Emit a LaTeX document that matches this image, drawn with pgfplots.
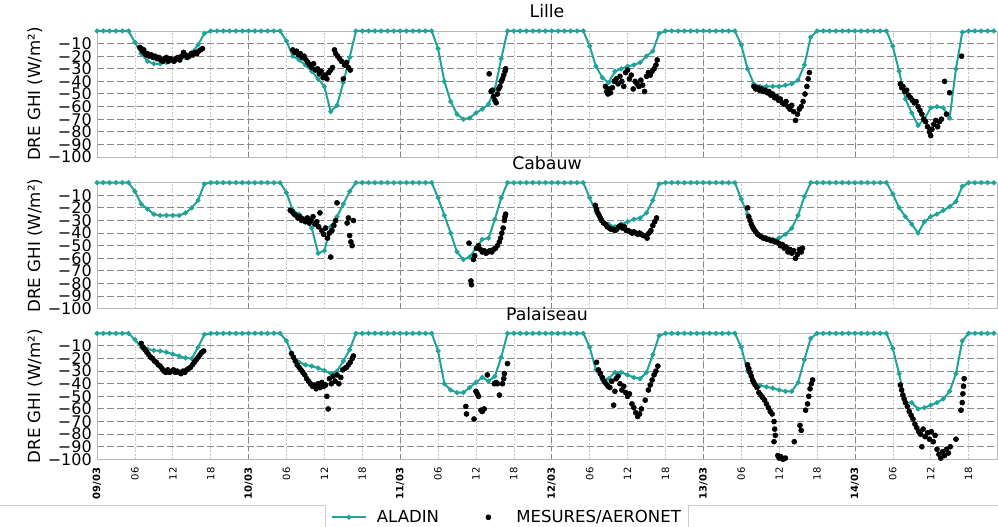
\documentclass[border=0pt]{standalone}
\usepackage{pgfplots}
\pgfplotsset{compat=1.18}
\usepackage{pgfplotstable}
\usepackage{fontspec}
\setmainfont{DejaVu Sans}
\definecolor{aladin}{RGB}{32,163,153}
\definecolor{gridc}{RGB}{135,135,135}

\pgfplotstableread{
h L C P
0 0 0 0
1 0 0 0
2 0 0 0
3 0 0 0
4 0 0 0
5 0 0 0
6 -9 -7 -5
7 -18 -17 -11
8 -24 -21 -12.5
9 -26 -25 -13.5
10 -26 -26 -14
11 -25 -26 -15
12 -24 -26 -16.5
13 -23 -26 -18
14 -21 -24 -19.5
15 -17 -20 -20
16 -11 -14 -11
17 -2 -1 -1
18 0 0 0
19 0 0 0
20 0 0 0
21 0 0 0
22 0 0 0
23 0 0 0
24 0 0 0
25 0 0 0
26 0 0 0
27 0 0 0
28 0 0 0
29 0 0 0
30 -8 -8 -6
31 -20 -22 -18
32 -23 -25 -23
33 -27 -29 -25
34 -32 -36 -26
35 -38 -56 -27.5
36 -44 -54 -29.5
37 -64 -35 -32
38 -59 -27 -30
39 -41 -17 -22
40 -21 -7 -13
41 0 0 0
42 0 0 0
43 0 0 0
44 0 0 0
45 0 0 0
46 0 0 0
47 0 0 0
48 0 0 0
49 0 0 0
50 0 0 0
51 0 0 0
52 0 0 0
53 0 0 0
54 -14 -12 -14
55 -40 -26 -40
56 -56 -40 -45
57 -66 -55 -47
58 -70 -61 -47
59 -69 -59 -43
60 -65 -52 -39
61 -62 -45 -35
62 -58 -44 -38
63 -46 -29 -34
64 -22 -12 -19
65 0 0 0
66 0 0 0
67 0 0 0
68 0 0 0
69 0 0 0
70 0 0 0
71 0 0 0
72 0 0 0
73 0 0 0
74 0 0 0
75 0 0 0
76 0 0 0
77 0 0 0
78 -12 -12 -11
79 -28 -23 -29
80 -37 -30 -37
81 -41 -33 -36
82 -32 -35 -31
83 -30 -33 -31
84 -28 -31 -33
85 -27 -29 -35
86 -25 -28 -36
87 -20 -24 -31
88 -16 -14 -17
89 -2 -1 -2
90 0 0 0
91 0 0 0
92 0 0 0
93 0 0 0
94 0 0 0
95 0 0 0
96 0 0 0
97 0 0 0
98 0 0 0
99 0 0 0
100 0 0 0
101 0 0 0
102 -11 -13 -11
103 -30 -25 -30
104 -42 -36 -40
105 -44 -42 -41.5
106 -44 -44 -42.5
107 -44 -45 -43.5
108 -44 -44 -45
109 -43 -41 -46
110 -42 -36 -46
111 -39 -26 -39
112 -27 -11 -21
113 -5 0 -4
114 0 0 0
115 0 0 0
116 0 0 0
117 0 0 0
118 0 0 0
119 0 0 0
120 0 0 0
121 0 0 0
122 0 0 0
123 0 0 0
124 0 0 0
125 0 0 0
126 -12 -9 -12
127 -32 -20 -32
128 -54 -27 -55
129 -65 -33 -55
130 -75 -40 -60
131 -70 -31 -59
132 -61 -27 -57
133 -60 -25 -55
134 -61 -22 -52
135 -69 -19 -46
136 -30 -15 -32
137 -1 -3 -6
138 0 0 0
139 0 0 0
140 0 0 0
141 0 0 0
142 0 0 0
}\aladintable

\pgfplotsset{
  panel/.style={
    scale only axis, width=675pt, height=94.5pt,
    xmin=0, xmax=142.5, ymin=-100, ymax=0,
    clip=false,
    axis line style={gray!55, line width=0.6pt},
    major tick length=0pt,
    ytick={-100,-90,...,-10},
    yticklabels={−100,−90,−80,−70,−60,−50,−40,−30,−20,−10},
    yticklabel style={font=\fontsize{12}{12}\selectfont, inner sep=0pt, anchor=east},
    yticklabel shift=3.75pt,
    xtick={0,6,...,138},
    xmajorgrids, ymajorgrids,
    x grid style={gray!45, dash pattern=on 1.5pt off 1.2pt, line width=0.45pt},
    y grid style={gridc, dash pattern=on 5.25pt off 2.25pt, line width=0.75pt},
    extra x ticks={24,48,72,96,120},
    extra x tick labels={},
    extra x tick style={x grid style={gridc, dash pattern=on 4pt off 2.25pt, line width=0.6pt}},
    title style={font=\fontsize{13}{13}\selectfont, at={(axis description cs:0.5,1)}, anchor=base, yshift=3.75pt},
    ylabel={DRE GHI (W/m²)},
    ylabel style={font=\fontsize{12.5}{12.5}\selectfont, at={(axis description cs:-0.0689,0.5)}, anchor=center},
  },
  aladinstyle/.style={color=aladin, line width=1.5pt, mark=*, mark size=1.0pt,
    mark options={fill=aladin!85!black, draw=none},
    legend image code/.code={\path[draw=none, fill=none] (0pt,-2pt) rectangle (32pt,2pt); \draw[mark repeat=2, mark phase=2, ##1] plot coordinates {(0pt,0pt) (13pt,0pt) (26pt,0pt)};}},
  measstyle/.style={only marks, mark=*, mark size=1.9pt, color=black,
    legend image code/.code={\path[draw=none, fill=none] (0pt,-2pt) rectangle (32pt,2pt); \draw[mark repeat=2, mark phase=2, ##1] plot coordinates {(0pt,0pt) (13pt,0pt) (26pt,0pt)};}},
}

\begin{document}
\begin{tikzpicture}
\useasboundingbox (0pt,0pt) rectangle (748.5pt,-395.25pt);

% ---------------- Lille ----------------
\begin{axis}[panel, at={(72.75pt,-23.25pt)}, anchor=north west, title={Lille}, xticklabels={}]
\addplot[aladinstyle] table[x=h, y=L] {\aladintable};
\addplot[measstyle] coordinates {
(6.8,-13) (7.0,-14) (7.2,-16) (7.4,-15) (7.6,-18) (7.8,-19) (8.0,-18) (8.3,-20) (8.6,-19) (8.9,-21)
(9.2,-20) (9.5,-22) (9.8,-21) (10.1,-23) (10.4,-24) (10.7,-22) (11.0,-21) (11.3,-24) (11.6,-22) (11.9,-23)
(12.2,-24) (12.5,-22) (12.8,-21) (13.1,-23) (13.4,-20) (13.7,-17) (14.0,-19) (14.3,-21) (14.6,-20) (14.9,-18)
(15.2,-19) (15.5,-17) (15.8,-18) (16.1,-16) (16.4,-15) (16.7,-14)
(31.0,-15) (31.3,-17) (31.6,-16) (31.9,-19) (32.2,-18) (32.5,-21) (32.8,-20) (33.1,-23) (33.4,-25) (33.7,-27)
(34.0,-29) (34.3,-26) (34.6,-31) (34.9,-30) (35.2,-34) (35.5,-32) (35.8,-37) (36.1,-35) (36.4,-38) (36.7,-33)
(37.0,-31) (37.3,-29) (37.6,-15) (37.8,-18) (38.1,-20) (38.4,-22) (38.7,-24) (39.0,-38) (39.2,-27) (39.5,-25)
(39.8,-29) (40.1,-31)
(62.1,-34) (62.4,-48) (62.6,-47) (62.8,-52) (63.0,-55) (63.2,-57) (63.4,-50) (63.6,-46) (63.8,-44) (64.0,-40)
(64.2,-38) (64.4,-35) (64.6,-32) (64.7,-30)
(80.5,-44) (80.7,-48) (80.9,-50) (81.1,-46) (81.3,-49) (81.6,-45) (81.9,-40) (82.2,-38) (82.5,-42) (82.8,-36)
(83.1,-40) (83.4,-44) (83.7,-33) (84.0,-31) (84.3,-38) (84.6,-35) (84.9,-46) (85.2,-40) (85.5,-42) (85.8,-44)
(86.1,-39) (86.4,-43) (86.7,-48) (87.0,-36) (87.3,-33) (87.6,-35) (87.9,-32) (88.2,-30) (88.5,-27) (88.7,-23)
(104.0,-44) (104.3,-46) (104.6,-45) (104.9,-47) (105.2,-46) (105.5,-48) (105.8,-47) (106.1,-49) (106.4,-48) (106.7,-51)
(107.0,-50) (107.3,-53) (107.6,-52) (107.9,-55) (108.2,-54) (108.5,-57) (108.8,-58) (109.1,-56) (109.4,-60) (109.7,-62)
(110.0,-59) (110.3,-64) (110.6,-71) (110.9,-66) (111.2,-62) (111.5,-60) (111.8,-56) (112.1,-50) (112.4,-44) (112.6,-38)
(112.8,-33)
(127.2,-42) (127.4,-45) (127.6,-44) (127.9,-48) (128.2,-47) (128.5,-51) (128.8,-53) (129.1,-55) (129.4,-57) (129.7,-56)
(130.0,-60) (130.3,-63) (130.6,-66) (130.9,-70) (131.2,-72) (131.5,-76) (131.8,-80) (132.0,-83) (132.2,-78) (132.5,-74)
(132.8,-71) (133.1,-76) (133.4,-72) (133.7,-70) (134.2,-40) (134.5,-66) (135.0,-49) (136.9,-20)
};
\end{axis}

% ---------------- Cabauw ----------------
\begin{axis}[panel, at={(72.75pt,-137pt)}, anchor=north west, title={Cabauw}, xticklabels={}]
\addplot[aladinstyle] table[x=h, y=C] {\aladintable};
\addplot[measstyle] coordinates {
(30.6,-22) (30.9,-23) (31.2,-25) (31.5,-26) (31.8,-28) (32.1,-27) (32.4,-30) (32.7,-29) (33.0,-31) (33.3,-28)
(33.6,-32) (33.9,-30) (34.2,-27) (34.5,-33) (34.8,-31) (35.1,-35) (35.3,-24) (35.6,-38) (35.9,-41) (36.2,-36)
(36.5,-44) (36.8,-40) (37.0,-59) (37.2,-38) (37.5,-34) (37.8,-30) (38.0,-16) (39.6,-32) (39.8,-28) (40.0,-42)
(40.2,-47) (40.4,-50) (40.6,-30)
(58.9,-48) (59.2,-78) (59.3,-81) (59.6,-61) (59.8,-58) (60.1,-52) (60.4,-50) (60.7,-53) (61.0,-55) (61.3,-54)
(61.6,-56) (61.9,-55) (62.2,-54) (62.5,-55) (62.8,-53) (63.1,-52) (63.4,-50) (63.7,-47) (63.9,-44) (64.1,-40)
(64.3,-36) (64.5,-30) (64.6,-27) (64.7,-25)
(78.9,-18) (79.1,-21) (79.3,-24) (79.5,-26) (79.7,-28) (79.9,-30) (80.2,-32) (80.5,-33) (80.8,-35) (81.1,-36)
(81.4,-37) (81.7,-37) (82.0,-38) (82.3,-37) (82.6,-35) (82.9,-34) (83.2,-36) (83.5,-35) (83.8,-38) (84.1,-38)
(84.4,-39) (84.7,-40) (85.0,-39) (85.3,-40) (85.6,-41) (85.9,-40) (86.2,-41) (86.5,-42) (86.8,-42) (87.1,-44)
(87.4,-40) (87.7,-38) (88.0,-34) (88.3,-31) (88.6,-28)
(103.0,-20) (103.2,-27) (103.4,-30) (103.6,-33) (103.8,-35) (104.0,-37) (104.3,-39) (104.6,-41) (104.9,-42) (105.2,-43)
(105.5,-44) (105.8,-44) (106.1,-45) (106.4,-45) (106.7,-46) (107.0,-46) (107.3,-47) (107.6,-47) (107.9,-48) (108.2,-50)
(108.5,-49) (108.8,-52) (109.1,-51) (109.4,-55) (109.7,-53) (110.0,-56) (110.3,-54) (110.6,-60) (110.9,-57) (111.2,-53)
(111.5,-55) (111.7,-52)
};
\end{axis}

% ---------------- Palaiseau ----------------
\begin{axis}[panel, at={(72.75pt,-250pt)}, anchor=north west, title={Palaiseau},
  xticklabels={\textbf{09/03},06,12,18,\textbf{10/03},06,12,18,\textbf{11/03},06,12,18,\textbf{12/03},06,12,18,\textbf{13/03},06,12,18,\textbf{14/03},06,12,18},
  xticklabel style={rotate=90, anchor=east, inner sep=0pt, font=\fontsize{7.5}{7.5}\selectfont},
  xticklabel shift=6pt,
  legend style={at={(axis description cs:0.4556,-0.46)}, anchor=center, draw=none, fill=none,
    legend columns=2, font=\fontsize{12.4}{12.4}\selectfont,
    /tikz/every even column/.append style={column sep=22pt}},
  legend cell align=left]
\addplot[aladinstyle] table[x=h, y=P] {\aladintable};
\addlegendentry{ALADIN}
\addplot[measstyle] coordinates {
(7.0,-8) (7.3,-11) (7.6,-13) (7.9,-15) (8.2,-17) (8.5,-19) (8.8,-20) (9.1,-22) (9.4,-23) (9.7,-25)
(10.0,-26) (10.3,-28) (10.6,-30) (10.9,-31) (11.2,-29) (11.5,-31) (11.8,-30) (12.1,-29) (12.4,-31) (12.7,-30)
(13.0,-31) (13.3,-32) (13.6,-30) (13.9,-31) (14.2,-29) (14.5,-28) (14.8,-27) (15.1,-25) (15.4,-23) (15.7,-21)
(16.0,-19) (16.3,-17) (16.6,-15) (16.9,-14)
(30.8,-16) (31.1,-19) (31.4,-22) (31.7,-25) (32.0,-27) (32.3,-29) (32.6,-31) (32.9,-33) (33.2,-36) (33.5,-38)
(33.8,-40) (34.1,-42) (34.4,-41) (34.7,-44) (35.0,-40) (35.3,-43) (35.6,-39) (35.9,-42) (36.2,-41) (36.4,-50)
(36.6,-60) (36.8,-36) (37.1,-40) (37.4,-34) (37.7,-38) (38.0,-33) (38.3,-40) (38.6,-35) (38.9,-29) (39.2,-28)
(39.5,-27) (39.8,-25) (40.1,-23) (40.4,-20) (40.6,-18)
(58.4,-58) (58.5,-64) (59.7,-68) (60.0,-46) (60.2,-48) (60.4,-50) (60.8,-61) (61.0,-62) (61.3,-60) (61.8,-33)
(62.9,-40) (63.2,-39) (63.4,-40) (63.7,-49) (64.2,-40) (64.4,-36) (64.5,-32) (65.0,-24)
(79.1,-23) (79.4,-29) (79.7,-32) (80.0,-35) (80.3,-38) (80.6,-40) (80.9,-42) (81.2,-43) (81.5,-38) (81.8,-57)
(82.0,-46) (82.2,-36) (82.5,-34) (82.8,-40) (83.1,-45) (83.4,-42) (83.7,-47) (84.0,-50) (84.3,-48) (84.7,-56)
(85.0,-59) (85.3,-63) (85.6,-66) (85.9,-64) (86.2,-60) (86.8,-53) (87.3,-45) (87.6,-41) (87.9,-37) (88.2,-33)
(88.5,-30) (88.8,-26)
(103.0,-25) (103.2,-28) (103.4,-31) (103.6,-34) (103.8,-37) (104.0,-39) (104.2,-41) (104.5,-43) (104.8,-47) (105.1,-49)
(105.4,-51) (105.7,-53) (106.0,-56) (106.3,-59) (106.6,-62) (106.9,-64) (107.2,-70) (107.3,-76) (107.4,-81) (107.2,-86)
(107.8,-97) (108.0,-99) (108.3,-98) (108.6,-100) (109.0,-99) (110.4,-86) (111.3,-73) (111.5,-77) (112.2,-61) (112.5,-56)
(112.7,-50) (112.9,-44) (113.1,-40) (113.3,-37)
(127.2,-41) (127.4,-45) (127.6,-49) (127.8,-52) (128.0,-55) (128.3,-58) (128.6,-62) (128.9,-65) (129.2,-68) (129.5,-72)
(129.8,-75) (130.1,-78) (130.4,-80) (130.6,-90) (130.8,-76) (131.1,-82) (131.5,-79) (131.8,-84) (132.1,-78) (132.4,-86)
(132.7,-81) (133.0,-92) (133.3,-96) (133.6,-99) (133.9,-94) (134.2,-97) (134.5,-92) (134.8,-95) (135.1,-90) (136.0,-84)
(136.8,-61) (137.0,-55) (137.1,-48) (137.2,-42) (137.3,-36)
};
\addlegendentry{MESURES/AERONET}
\end{axis}

\draw[gray!40, line width=0.75pt] (0pt,-378.75pt) -- (243.75pt,-378.75pt) -- (243.75pt,-400pt);
\draw[gray!40, line width=0.75pt] (516pt,-400pt) -- (516pt,-378.75pt) -- (750pt,-378.75pt);
\end{tikzpicture}
\end{document}
